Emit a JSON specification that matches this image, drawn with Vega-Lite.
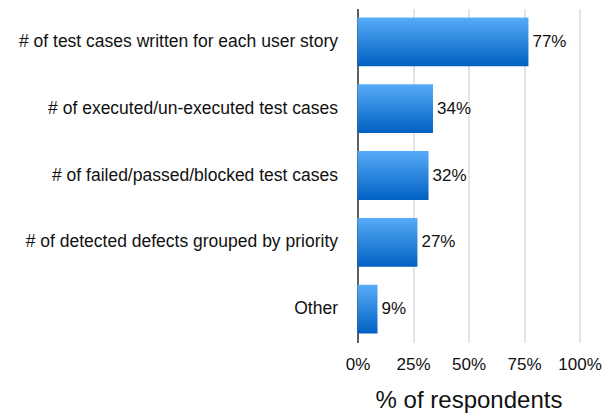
{
  "$schema": "https://vega.github.io/schema/vega-lite/v6.json",
  "width": 222,
  "height": 334,
  "autosize": {"type": "none"},
  "padding": {"left": 357.5, "top": 8.5, "right": 32, "bottom": 72},
  "background": "white",
  "config": {
    "view": {"stroke": null},
    "font": "Liberation Sans"
  },
  "data": {
    "values": [
      {"metric": "# of test cases written for each user story", "pct": 0.77},
      {"metric": "# of executed/un-executed test cases", "pct": 0.34},
      {"metric": "# of failed/passed/blocked test cases", "pct": 0.32},
      {"metric": "# of detected defects grouped by priority", "pct": 0.27},
      {"metric": "Other", "pct": 0.09}
    ]
  },
  "encoding": {
    "y": {
      "field": "metric",
      "type": "nominal",
      "sort": null,
      "scale": {"paddingInner": 0.27, "paddingOuter": 0.135},
      "axis": {
        "title": null,
        "ticks": false,
        "labelPadding": 20,
        "labelFontSize": 17.5,
        "labelColor": "#111",
        "labelFont": "Liberation Sans",
        "labelLimit": 400,
        "domainColor": "#333",
        "domainWidth": 1.5,
        "grid": false
      }
    },
    "x": {
      "field": "pct",
      "type": "quantitative",
      "scale": {"domain": [0, 1], "nice": false},
      "axis": {
        "title": "% of respondents",
        "titleFontSize": 24,
        "titleFontWeight": "normal",
        "titleColor": "#111",
        "titlePadding": 16,
        "titleFont": "Liberation Sans",
        "format": ".0%",
        "values": [0, 0.25, 0.5, 0.75, 1],
        "labelFontSize": 17,
        "labelColor": "#111",
        "labelPadding": 14,
        "labelFont": "Liberation Sans",
        "labelOverlap": false,
        "labelFlush": false,
        "labelBound": false,
        "ticks": false,
        "domain": false,
        "grid": true,
        "gridColor": "#c8c8c8",
        "gridWidth": 1
      }
    }
  },
  "layer": [
    {
      "mark": {
        "type": "bar",
        "color": {
          "gradient": "linear",
          "x1": 0, "y1": 0, "x2": 0, "y2": 1,
          "stops": [
            {"offset": 0, "color": "#58acf8"},
            {"offset": 1, "color": "#0060c2"}
          ]
        }
      }
    },
    {
      "mark": {
        "type": "text",
        "align": "left",
        "baseline": "middle",
        "dx": 4,
        "fontSize": 17,
        "color": "#111",
        "font": "Liberation Sans"
      },
      "encoding": {
        "text": {"field": "pct", "type": "quantitative", "format": ".0%"}
      }
    }
  ]
}
